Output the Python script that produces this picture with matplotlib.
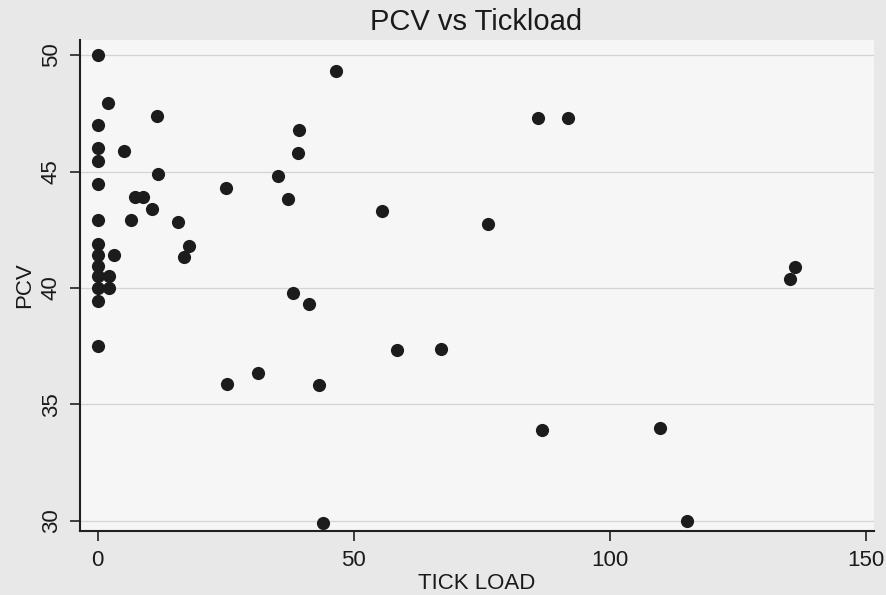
import matplotlib.pyplot as plt

# Tick load (x) and PCV (y)
tick_load = [0, 2, 11.5, 0, 0, 5.2, 0, 11.7, 0, 7.3,
             8.9, 10.6, 0, 6.4, 15.6, 0, 17.8, 0, 3.1, 16.8,
             0, 0, 2.2, 0, 2.2, 0, 0, 39.2, 39.1, 35.1,
             25.1, 37.2, 38.1, 41.2, 31.3, 25.2, 43.1, 46.6, 86.0, 91.9,
             55.5, 76.1, 58.5, 67.1, 44.0, 136.1, 135.1, 109.7, 115.1, 86.7]
pcv = [50.0, 47.95, 47.4, 47.0, 46.0, 45.9, 45.45, 44.9, 44.45, 43.9,
       43.9, 43.4, 42.9, 42.9, 42.85, 41.9, 41.8, 41.4, 41.4, 41.35,
       40.95, 40.5, 40.5, 40.0, 40.0, 39.45, 37.5, 46.8, 45.8, 44.8,
       44.3, 43.8, 39.8, 39.3, 36.35, 35.9, 35.85, 49.3, 47.3, 47.3,
       43.3, 42.75, 37.35, 37.4, 29.9, 40.9, 40.4, 34.0, 30.0, 33.9]

x_ticks = [0, 50, 100, 150]
y_ticks = [30, 35, 40, 45, 50]

plt.rcParams['font.family'] = ['Liberation Sans', 'DejaVu Sans']

fig = plt.figure(figsize=(8.87, 5.95), dpi=100, facecolor='#e8e8e8')
ax = fig.add_axes([0.090, 0.1076, 0.895, 0.825], facecolor='#f6f6f6')

ax.scatter(tick_load, pcv, s=90, color='#1c1c1c', zorder=3, linewidths=0)

ax.set_xlim(-3.5, 151.5)
ax.set_ylim(29.57, 50.64)
ax.set_xticks(x_ticks)
ax.set_yticks(y_ticks)
ax.set_yticklabels([str(v) for v in y_ticks], rotation=90, va='center')

# horizontal grid only, like the Stata graph
ax.grid(axis='y', color='#d4d4d4', linewidth=0.9)
ax.set_axisbelow(True)

for side in ['top', 'right']:
    ax.spines[side].set_visible(False)
for side in ['left', 'bottom']:
    ax.spines[side].set_linewidth(1.5)
    ax.spines[side].set_color('#202020')

ax.tick_params(axis='both', length=7, width=1.2, color='#202020',
               labelsize=16, labelcolor='#1a1a1a')
ax.tick_params(axis='x', pad=7)
ax.tick_params(axis='y', pad=6)

ax.set_xlabel('TICK LOAD', fontsize=16, color='#1a1a1a', labelpad=1)
ax.set_ylabel('PCV', fontsize=16, color='#1a1a1a', labelpad=4)
fig.text(0.537, 0.95, 'PCV vs Tickload', fontsize=21, color='#1a1a1a',
         ha='center', va='baseline')

fig.savefig('out.png', dpi=100, facecolor=fig.get_facecolor())
